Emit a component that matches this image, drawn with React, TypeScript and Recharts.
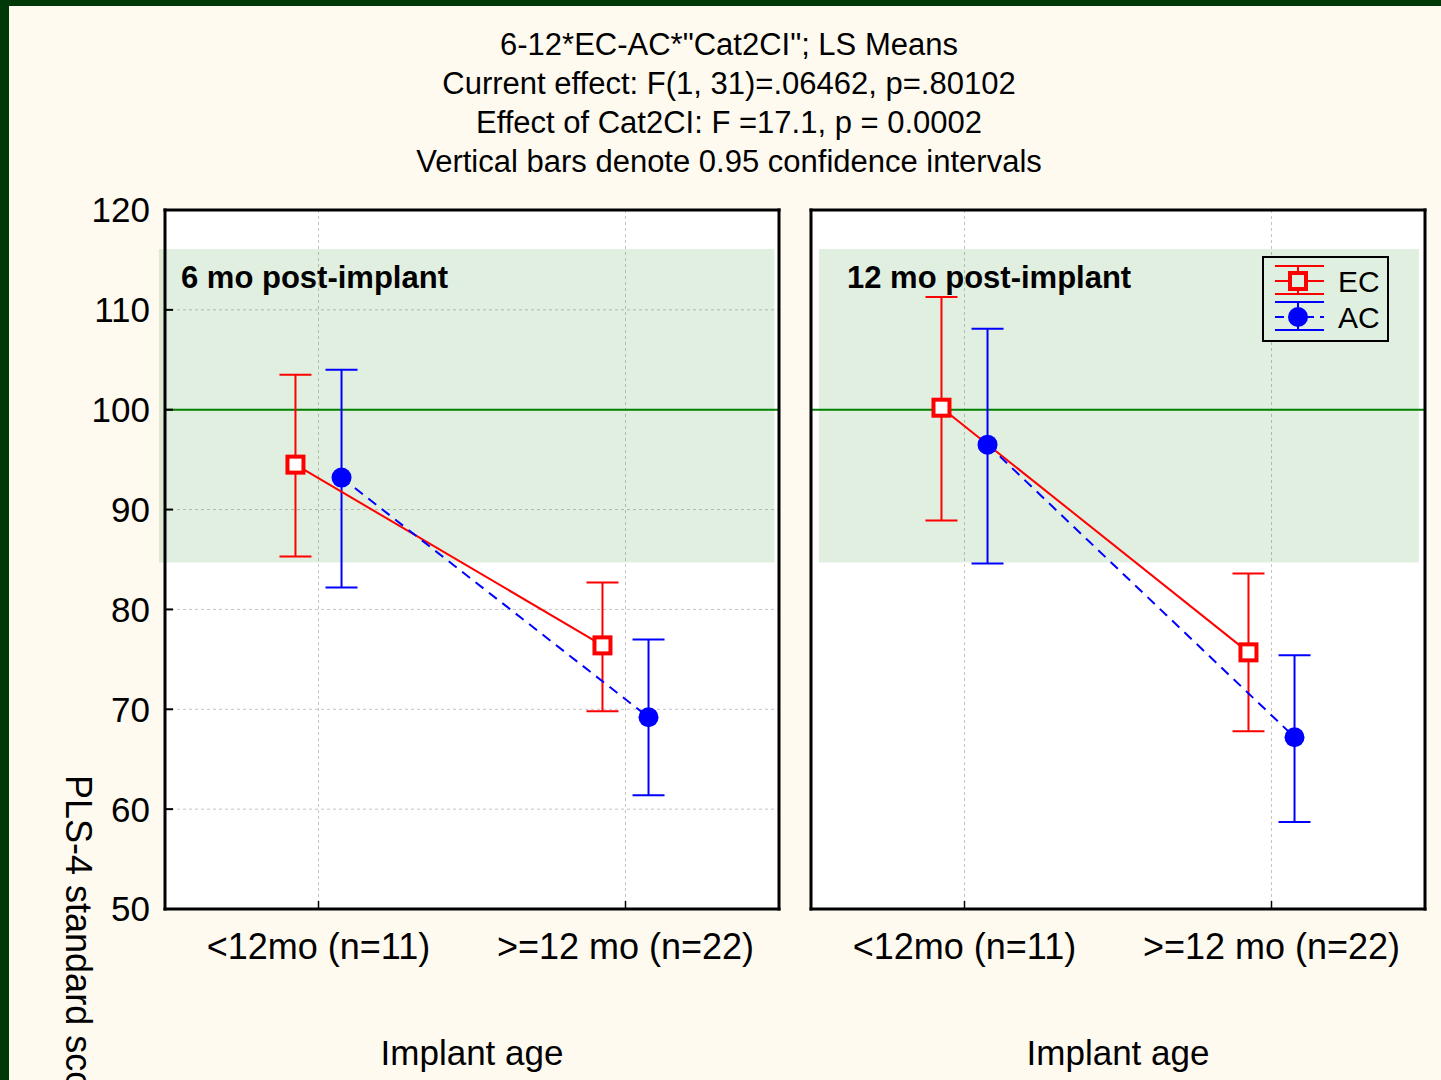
import React from "react";
import {
  ComposedChart,
  Scatter,
  ErrorBar,
  XAxis,
  YAxis,
  CartesianGrid,
  ReferenceArea,
  ReferenceLine,
  Legend,
} from "recharts";

// ─── Data ───────────────────────────────────────────────────────────────────

const groups = ["<12mo (n=11)", ">=12 mo (n=22)"];
const groupTicks = [0.5, 1.5];
const yTicks = [50, 60, 70, 80, 90, 100, 110, 120];

// 6 mo post-implant
const ec6Mean = [94.5, 76.4];
const ec6Low = [85.3, 69.8];
const ec6High = [103.5, 82.7];
const ac6Mean = [93.2, 69.2];
const ac6Low = [82.2, 61.4];
const ac6High = [104.0, 77.0];

// 12 mo post-implant
const ec12Mean = [100.2, 75.7];
const ec12Low = [88.9, 67.8];
const ec12High = [111.3, 83.6];
const ac12Mean = [96.5, 67.2];
const ac12Low = [84.6, 58.7];
const ac12High = [108.1, 75.4];

const normalRange = [84.7, 116.1];
const normMean = 100;

const titleLines = [
  '6-12*EC-AC*"Cat2CI"; LS Means',
  "Current effect: F(1, 31)=.06462, p=.80102",
  "Effect of Cat2CI: F =17.1, p = 0.0002",
  "Vertical bars denote 0.95 confidence intervals",
];

// ─── Styles ─────────────────────────────────────────────────────────────────

const FONT = "'Liberation Sans', Arial, sans-serif";
const RED = "#FF0000";
const BLUE = "#0000FF";
const BAND = "#E0F0E0";
const DODGE = 0.075;
const AXIS_LINE = { stroke: "#000", strokeWidth: 3, strokeLinecap: "square" as const };
const TICK_LINE = { stroke: "#000", strokeWidth: 1.5 };

type Pt = { x: number; y: number; err: number[] };

function toPoints(mean: number[], low: number[], high: number[], shift: number): Pt[] {
  return mean.map((m, i) => ({
    x: groupTicks[i] + shift,
    y: m,
    err: [m - low[i], high[i] - m],
  }));
}

const Square = (p: any) => (
  <rect x={p.cx - 8} y={p.cy - 8} width={16} height={16} fill="#fff" stroke={RED} strokeWidth={4} />
);
const Dot = (p: any) => <circle cx={p.cx} cy={p.cy} r={10} fill={BLUE} />;
const Nothing = () => <g />;

function LegendBox() {
  return (
    <svg width={128} height={87} style={{ display: "block" }}>
      <rect x={1} y={1} width={125} height={84} fill={BAND} stroke="#000" strokeWidth={2} />
      <g stroke={RED} strokeWidth={2}>
        <line x1={13} y1={10} x2={62} y2={10} />
        <line x1={13} y1={25} x2={62} y2={25} />
        <line x1={13} y1={38} x2={62} y2={38} />
        <line x1={36} y1={10} x2={36} y2={38} />
      </g>
      <rect x={28} y={17} width={16} height={16} fill={BAND} stroke={RED} strokeWidth={4} />
      <g stroke={BLUE} strokeWidth={2}>
        <line x1={13} y1={46} x2={62} y2={46} />
        <line x1={13} y1={61} x2={62} y2={61} strokeDasharray="9 6" />
        <line x1={13} y1={74} x2={62} y2={74} />
        <line x1={36} y1={46} x2={36} y2={74} />
      </g>
      <circle cx={36} cy={61} r={10} fill={BLUE} />
      <text x={76} y={36} fontSize={30} fontFamily={FONT} fill="#000">EC</text>
      <text x={76} y={72} fontSize={30} fontFamily={FONT} fill="#000">AC</text>
    </svg>
  );
}

interface PanelProps {
  chartWidth: number;
  marginLeft: number;
  marginRight: number;
  yAxisWidth: number;
  showYLabels: boolean;
  bandX: [number, number];
  ec: Pt[];
  ac: Pt[];
  legend?: boolean;
}

function Panel({ chartWidth, marginLeft, marginRight, yAxisWidth, showYLabels, bandX, ec, ac, legend }: PanelProps) {
  return (
    <div style={{ position: "absolute", left: 0, top: 0 }}>
      <ComposedChart
        width={chartWidth}
        height={1080}
        margin={{ top: 209, right: marginRight, bottom: 6, left: marginLeft }}
      >
        <CartesianGrid stroke="#C4C4C4" strokeDasharray="3 3" fill="#fff" />
        <XAxis
          dataKey="x"
          type="number"
          domain={[0, 2]}
          ticks={groupTicks}
          interval={0}
          allowDataOverflow
          tickFormatter={(v: number) => groups[Math.floor(v)]}
          height={165}
          axisLine={AXIS_LINE}
          tickLine={TICK_LINE}
          tickSize={-8}
          tickMargin={32}
          tick={{ fontSize: 36, fill: "#000", fontFamily: FONT }}
          label={{ value: "Implant age", position: "insideBottom", offset: 9, fontSize: 35, fill: "#000", fontFamily: FONT }}
        />
        <XAxis
          xAxisId="top"
          orientation="top"
          dataKey="x"
          type="number"
          domain={[0, 2]}
          ticks={groupTicks}
          interval={0}
          allowDataOverflow
          height={1}
          axisLine={AXIS_LINE}
          tickLine={TICK_LINE}
          tickSize={-8}
          tick={false}
        />
        <YAxis
          type="number"
          domain={[50, 120]}
          ticks={yTicks}
          interval={0}
          allowDataOverflow
          width={yAxisWidth}
          axisLine={AXIS_LINE}
          tickLine={{ stroke: "#000", strokeWidth: 2 }}
          tickSize={-8}
          tickMargin={23}
          tick={showYLabels ? { fontSize: 35, fill: "#000", fontFamily: FONT } : false}
        />
        <YAxis
          yAxisId="right"
          orientation="right"
          type="number"
          domain={[50, 120]}
          ticks={yTicks}
          interval={0}
          allowDataOverflow
          width={1}
          axisLine={AXIS_LINE}
          tickLine={{ stroke: "#000", strokeWidth: 2 }}
          tickSize={-8}
          tick={false}
        />
        <ReferenceArea
          x1={bandX[0]}
          x2={bandX[1]}
          y1={normalRange[0]}
          y2={normalRange[1]}
          fill="#007800"
          fillOpacity={0.12}
          stroke="none"
          ifOverflow="visible"
        />
        <ReferenceLine y={normMean} stroke="#008000" strokeWidth={2} />
        {/* invisible series so the top and right frame axes get a domain */}
        <Scatter
          data={ec}
          dataKey="y"
          xAxisId="top"
          yAxisId="right"
          shape={Nothing}
          legendType="none"
          isAnimationActive={false}
        />
        <Scatter
          data={ec}
          dataKey="y"
          shape={Square}
          line={{ stroke: RED, strokeWidth: 2 }}
          lineType="joint"
          isAnimationActive={false}
        >
          <ErrorBar dataKey="err" direction="y" width={16} stroke={RED} strokeWidth={2} isAnimationActive={false} />
        </Scatter>
        <Scatter
          data={ac}
          dataKey="y"
          shape={Dot}
          line={{ stroke: BLUE, strokeWidth: 2, strokeDasharray: "10 7" }}
          lineType="joint"
          isAnimationActive={false}
        >
          <ErrorBar dataKey="err" direction="y" width={16} stroke={BLUE} strokeWidth={2} isAnimationActive={false} />
        </Scatter>
        {legend && (
          <Legend
            layout="vertical"
            align="center"
            verticalAlign="middle"
            wrapperStyle={{ left: 1262, top: 256, width: 128, height: 87 }}
            content={() => <LegendBox />}
          />
        )}
      </ComposedChart>
    </div>
  );
}

export default function App() {
  return (
    <div
      style={{
        position: "fixed",
        left: 0,
        top: 0,
        width: 1441,
        height: 1080,
        background: "#FFFAF0",
        overflow: "hidden",
        fontFamily: FONT,
      }}
    >
      <Panel
        chartWidth={800}
        marginLeft={85}
        marginRight={20}
        yAxisWidth={80}
        showYLabels
        bandX={[-0.02, 1.985]}
        ec={toPoints(ec6Mean, ec6Low, ec6High, -DODGE)}
        ac={toPoints(ac6Mean, ac6Low, ac6High, DODGE)}
      />
      <Panel
        chartWidth={1441}
        marginLeft={810}
        marginRight={15}
        yAxisWidth={1}
        showYLabels={false}
        bandX={[0.026, 1.98]}
        ec={toPoints(ec12Mean, ec12Low, ec12High, -DODGE)}
        ac={toPoints(ac12Mean, ac12Low, ac12High, DODGE)}
        legend
      />
      <svg
        width={1441}
        height={1080}
        style={{ position: "absolute", left: 0, top: 0, pointerEvents: "none" }}
      >
        <g fontFamily={FONT} fill="#000" fontSize={31} textAnchor="middle">
          {titleLines.map((t, i) => (
            <text key={i} x={729} y={55 + i * 39}>
              {t}
            </text>
          ))}
        </g>
        <text x={181} y={288} fontFamily={FONT} fontSize={31} fontWeight="bold" fill="#000">
          6 mo post-implant
        </text>
        <text x={847} y={288} fontFamily={FONT} fontSize={31} fontWeight="bold" fill="#000">
          12 mo post-implant
        </text>
        <text x={66} y={775} transform="rotate(90 66 775)" fontFamily={FONT} fontSize={36} fill="#000">
          PLS-4 standard score
        </text>
      </svg>
      <div style={{ position: "absolute", left: 0, top: 0, width: 9, height: 1080, background: "#003808" }} />
      <div style={{ position: "absolute", left: 0, top: 0, width: 1441, height: 6, background: "#003808" }} />
    </div>
  );
}
